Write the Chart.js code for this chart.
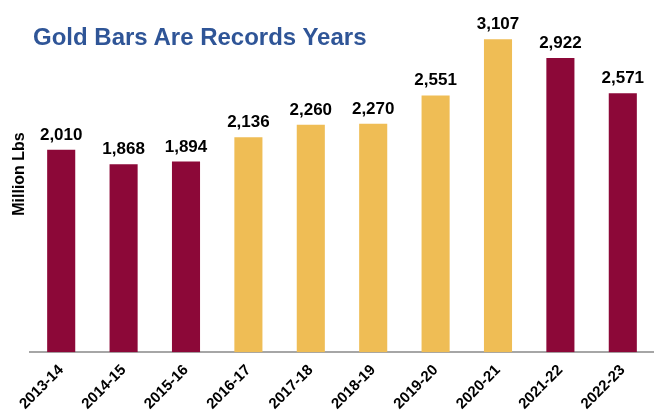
<!DOCTYPE html>
<html>
<head>
<meta charset="utf-8">
<script src="https://cdn.jsdelivr.net/npm/chart.js@4.4.0/dist/chart.umd.min.js"></script>
<style>
  body { margin: 0; background: #fff; }
  #wrap { position: relative; width: 654px; height: 414px; }
  #title { position: absolute; left: 33px; top: 23px; font: bold 24px "Liberation Sans", Arial, sans-serif; color: #2F5597; }
</style>
</head>
<body>
<div id="wrap">
  <canvas id="mybargraph" width="654" height="414"></canvas>
  <div id="title">Gold Bars Are Records Years</div>
</div>
<script>
const years = ['2013-14', '2014-15', '2015-16', '2016-17', '2017-18', '2018-19', '2019-20', '2020-21', '2021-22', '2022-23']
const millionLbs = [2010, 1868, 1894, 2136, 2260, 2270, 2551, 3107, 2922, 2571]
const barColors = ['#8C0838', '#8C0838', '#8C0838', '#EFBD55', '#EFBD55', '#EFBD55', '#EFBD55', '#EFBD55', '#8C0838', '#8C0838']
const yTitle = 'Million Lbs'

// labels on top of each bar + the y axis title
const valueLabels = {
    id: 'valueLabels',
    afterDatasetsDraw(chart) {
        const ctx = chart.ctx
        ctx.save()
        ctx.font = 'bold 17px "Liberation Sans", Arial, sans-serif'
        ctx.fillStyle = '#000'
        ctx.textAlign = 'center'
        ctx.textBaseline = 'alphabetic'
        chart.getDatasetMeta(0).data.forEach(function(bar, i) {
            ctx.fillText(millionLbs[i].toLocaleString('en-US'), bar.x, bar.y - 10)
        })
        ctx.translate(24, 174)
        ctx.rotate(-Math.PI / 2)
        ctx.font = 'bold 16px "Liberation Sans", Arial, sans-serif'
        ctx.fillText(yTitle, 0, 0)
        ctx.restore()
    }
}

new Chart(document.getElementById('mybargraph'), {
    type: 'bar',
    data: {
        labels: years,
        datasets: [{
            data: millionLbs,
            backgroundColor: barColors,
            barPercentage: 0.45,
            categoryPercentage: 1
        }]
    },
    options: {
        responsive: false,
        animation: false,
        layout: { padding: { left: 30, top: 30, right: 0, bottom: 0 } },
        plugins: { legend: { display: false }, tooltip: { enabled: false } },
        scales: {
            x: {
                grid: { display: false },
                border: { color: '#A6A6A6', width: 2 },
                ticks: {
                    color: '#000',
                    padding: 1,
                    minRotation: 45,
                    maxRotation: 45,
                    font: { family: '"Liberation Sans", Arial, sans-serif', weight: 'bold', size: 15 }
                }
            },
            y: {
                display: false,
                min: 0,
                max: 3200
            }
        }
    },
    plugins: [valueLabels]
})
</script>
</body>
</html>
